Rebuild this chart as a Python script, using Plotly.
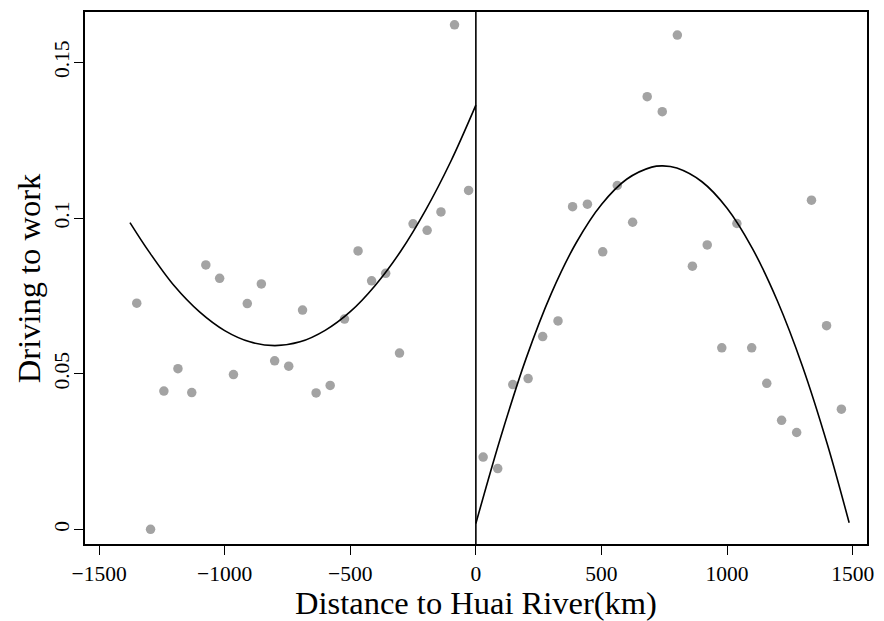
import plotly.graph_objects as go

# Binned scatter: south of the Huai River (negative distance)
south_x = [-1350, -1295, -1242, -1186, -1131, -1075, -1020, -965, -910, -854,
           -801, -745, -690, -636, -580, -523, -469, -415, -359, -304,
           -250, -194, -139, -85, -29]
south_y = [0.0727, 0.0001, 0.0445, 0.0517, 0.0440, 0.0850, 0.0807, 0.0498, 0.0726, 0.0789,
           0.0542, 0.0525, 0.0705, 0.0439, 0.0463, 0.0676, 0.0895, 0.0799, 0.0823, 0.0567,
           0.0982, 0.0961, 0.1020, 0.1621, 0.1089]

# Binned scatter: north of the Huai River (positive distance)
north_x = [29, 87, 147, 208, 266, 327, 385, 444, 505, 563,
           624, 682, 742, 802, 862, 921, 979, 1039, 1098, 1158,
           1217, 1277, 1336, 1396, 1455]
north_y = [0.0233, 0.0196, 0.0466, 0.0485, 0.0620, 0.0670, 0.1037, 0.1045, 0.0892, 0.1105,
           0.0987, 0.1390, 0.1342, 0.1588, 0.0846, 0.0914, 0.0584, 0.0983, 0.0584, 0.0470,
           0.0351, 0.0312, 0.1058, 0.0655, 0.0387]

# Quadratic fit lines
south_fit_x = [-1377, -1300, -1200, -1100, -1000, -900, -800, -700, -600, -500,
               -400, -300, -200, -100, 0]
south_fit_y = [0.0986, 0.0891, 0.0782, 0.0699, 0.0639, 0.0603, 0.0591, 0.0603, 0.0640, 0.0700,
               0.0785, 0.0893, 0.1026, 0.1182, 0.1363]
north_fit_x = [0, 100, 200, 300, 400, 500, 600, 700, 744, 800,
               900, 1000, 1100, 1200, 1300, 1400, 1486]
north_fit_y = [0.0020, 0.0300, 0.0550, 0.0758, 0.0922, 0.1044, 0.1125, 0.1164, 0.1168, 0.1161,
               0.1117, 0.1032, 0.0904, 0.0735, 0.0525, 0.0272, 0.0022]

x_ticks = [-1500, -1000, -500, 0, 500, 1000, 1500]
x_tick_text = ["\u22121500", "\u22121000", "\u2212500", "0", "500", "1000", "1500"]
y_ticks = [0, 0.05, 0.1, 0.15]
y_tick_text = ["0", "0.05", "0.1", "0.15"]

FONT = "Liberation Serif, Times New Roman, serif"
DOT = "#a3a3a3"

fig = go.Figure()
fig.add_trace(go.Scatter(x=south_x, y=south_y, mode="markers",
                         marker=dict(color=DOT, size=9.5, line=dict(width=0)), showlegend=False))
fig.add_trace(go.Scatter(x=north_x, y=north_y, mode="markers",
                         marker=dict(color=DOT, size=9.5, line=dict(width=0)), showlegend=False))
fig.add_trace(go.Scatter(x=south_fit_x, y=south_fit_y, mode="lines", line_shape="spline",
                         line=dict(color="black", width=1.6), showlegend=False))
fig.add_trace(go.Scatter(x=north_fit_x, y=north_fit_y, mode="lines", line_shape="spline",
                         line=dict(color="black", width=1.6), showlegend=False))

fig.add_shape(type="line", xref="x", yref="paper", x0=0, x1=0, y0=0, y1=1,
              line=dict(color="black", width=1.6))

# y-axis title as an annotation for precise placement
fig.add_annotation(text="Driving to work", xref="paper", yref="paper",
                   x=-(85 - 29) / 784, y=0.5, xanchor="center", yanchor="middle",
                   textangle=-90, showarrow=False,
                   font=dict(size=32.5, family=FONT, color="black"))

fig.update_layout(
    width=884, height=621,
    margin=dict(l=85, r=15, t=10, b=74),
    paper_bgcolor="white", plot_bgcolor="white",
    font=dict(family=FONT, color="black"),
    xaxis=dict(range=[-1556, 1557], tickvals=x_ticks, ticktext=x_tick_text,
               showgrid=False, zeroline=False, showline=True, mirror=True,
               linecolor="black", linewidth=1.6, ticks="outside", ticklen=9,
               tickwidth=1.4, tickcolor="black", tickfont=dict(size=21.5, family=FONT),
               ticklabelstandoff=0,
               title=dict(text="Distance to Huai River(km)", font=dict(size=32.5, family=FONT),
                          standoff=3)),
    yaxis=dict(range=[-0.0046, 0.1662], tickvals=y_ticks, ticktext=y_tick_text,
               showgrid=False, zeroline=False, showline=True, mirror=True,
               linecolor="black", linewidth=1.6, ticks="outside", ticklen=9,
               tickwidth=1.4, tickcolor="black", tickfont=dict(size=21.5, family=FONT),
               tickangle=-90, ticklabelstandoff=-3),
)

fig.write_html("out.html")
